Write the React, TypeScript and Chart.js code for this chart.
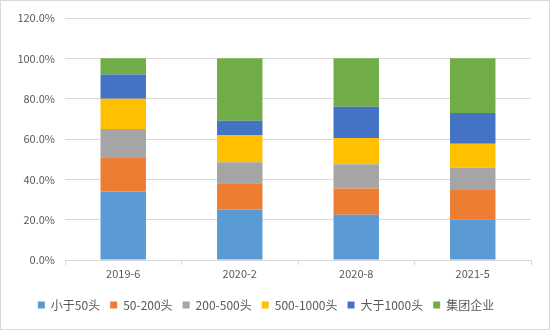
import React, { useEffect, useRef } from "react";
import { Chart, registerables } from "chart.js";

Chart.register(...registerables);

const categories = ["2019-6", "2020-2", "2020-8", "2021-5"];
const seriesNames = ["小于50头", "50-200头", "200-500头", "500-1000头", "大于1000头", "集团企业"];
const lt50 = [34, 25, 22.5, 20];
const s50_200 = [17, 13, 13, 14.7];
const s200_500 = [14, 10.5, 12, 11];
const s500_1000 = [15, 13.5, 13, 12];
const gt1000 = [12, 7, 15.5, 15.2];
const group = [8, 31, 24, 27.1];
const yTicks = [0, 20, 40, 60, 80, 100, 120];
const colors = ["#5B9BD5", "#ED7D31", "#A5A5A5", "#FFC000", "#4472C4", "#70AD47"];

export default function App() {
  const ref = useRef<HTMLCanvasElement>(null);
  useEffect(() => {
    if (!ref.current) return;
    const seriesData = [lt50, s50_200, s200_500, s500_1000, gt1000, group];
    const font = "'Noto Sans CJK SC', 'Noto Sans', sans-serif";
    const chart = new Chart(ref.current, {
      type: "bar",
      data: {
        labels: categories,
        datasets: seriesData.map((d, i) => ({
          label: seriesNames[i],
          data: d,
          backgroundColor: colors[i],
          borderWidth: 0,
          categoryPercentage: 1,
          barPercentage: 0.39,
        })),
      },
      options: {
        animation: false,
        responsive: false,
        maintainAspectRatio: false,
        layout: { padding: { left: 0, right: 18, top: 17, bottom: 8 } },
        plugins: {
          legend: {
            position: "bottom",
            labels: {
              boxWidth: 7,
              boxHeight: 7,
              padding: 10,
              color: "#595959",
              font: { family: font, size: 12 },
            },
          },
          tooltip: { enabled: false },
        },
        scales: {
          x: {
            stacked: true,
            grid: {
              display: true,
              drawOnChartArea: false,
              offset: true,
              color: "#d9d9d9",
              tickLength: 5,
            },
            border: { color: "#d9d9d9" },
            ticks: { color: "#595959", font: { family: font, size: 11 }, padding: 2 },
            afterFit: (s: any) => {
              s.height = 29;
            },
          },
          y: {
            stacked: true,
            min: 0,
            max: 120,
            afterBuildTicks: (s: any) => {
              s.ticks = yTicks.map((v) => ({ value: v }));
            },
            grid: { color: "#d9d9d9", drawTicks: false },
            border: { display: false },
            ticks: {
              color: "#595959",
              font: { family: font, size: 11 },
              padding: 10,
              callback: (v: any) => Number(v).toFixed(1) + "%",
            },
            afterFit: (s: any) => {
              s.width = 64;
            },
          },
        },
      },
    });
    return () => chart.destroy();
  }, []);
  return (
    <div
      style={{
        position: "fixed",
        left: 0,
        top: 0,
        width: 550,
        height: 330,
        background: "#fff",
        boxSizing: "border-box",
        border: "1px solid #d9d9d9",
      }}
    >
      <canvas ref={ref} width={548} height={328} style={{ display: "block" }} />
    </div>
  );
}
